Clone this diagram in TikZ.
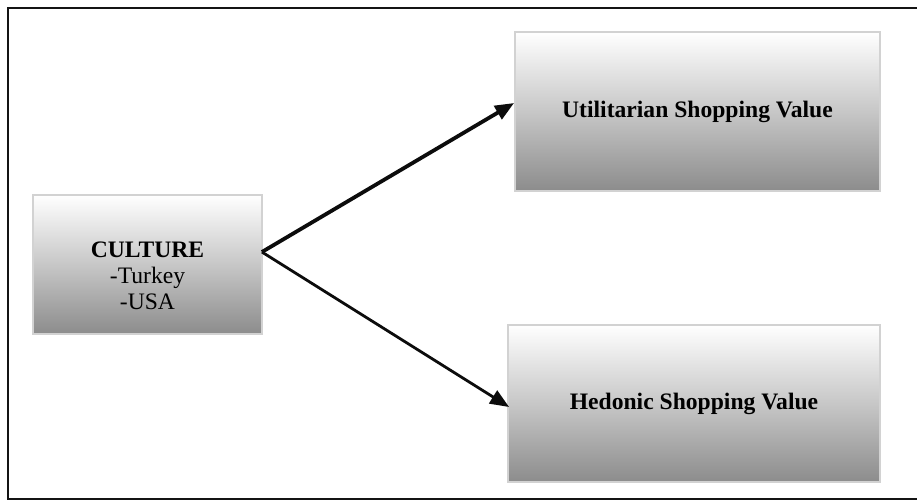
\documentclass[tikz,border=0pt]{standalone}
\usepackage{fontspec}
\setmainfont{Liberation Serif}
\usetikzlibrary{arrows.meta}
\definecolor{boxedge}{RGB}{210,210,210}
\definecolor{boxlow}{RGB}{140,140,140}
\definecolor{frameline}{RGB}{20,20,20}
\definecolor{arrowink}{RGB}{12,12,12}
\tikzset{
  gradbox/.style={draw=boxedge, line width=1.8pt, rectangle, inner sep=0pt,
    top color=white, bottom color=boxlow, middle color=black!22!white},
  boxtext/.style={font=\fontsize{23.6}{26}\selectfont, align=center, text=black},
  link/.style={draw=arrowink, -{Triangle[length=19pt,width=15pt]}},
}
\begin{document}
\begin{tikzpicture}[x=1pt,y=-1pt]
  \useasboundingbox (0,0) rectangle (917,501);
  % outer frame (open on the right)
  \draw[frameline, line width=2.2pt] (917,8) -- (8,8) -- (8,499) -- (917,499);

  % boxes
  \node[gradbox, minimum width=229pt, minimum height=139pt] (culture) at (147.5,264.5) {};
  \node[boxtext] (culturetxt) at (147.5,276) {\textbf{CULTURE}\\-Turkey\\-USA};

  \node[gradbox, minimum width=365pt, minimum height=159pt, boxtext] (util) at (697.5,111.5)
    {\textbf{Utilitarian Shopping Value}};
  \node[gradbox, minimum width=372pt, minimum height=157pt, boxtext] (hedonic) at (694,403.5)
    {\textbf{Hedonic Shopping Value}};

  % connectors
  \coordinate (fork) at ([yshift=12.5pt,xshift=-1pt]culture.east);
  \coordinate (utilin) at ([yshift=8.5pt]util.west);
  \coordinate (hedin) at ([yshift=-3.5pt,xshift=2pt]hedonic.west);
  \draw[link, line width=3.8pt, line join=miter] (fork) -- (utilin);
  \draw[link, line width=2.8pt] (fork) -- (hedin);
\end{tikzpicture}
\end{document}
